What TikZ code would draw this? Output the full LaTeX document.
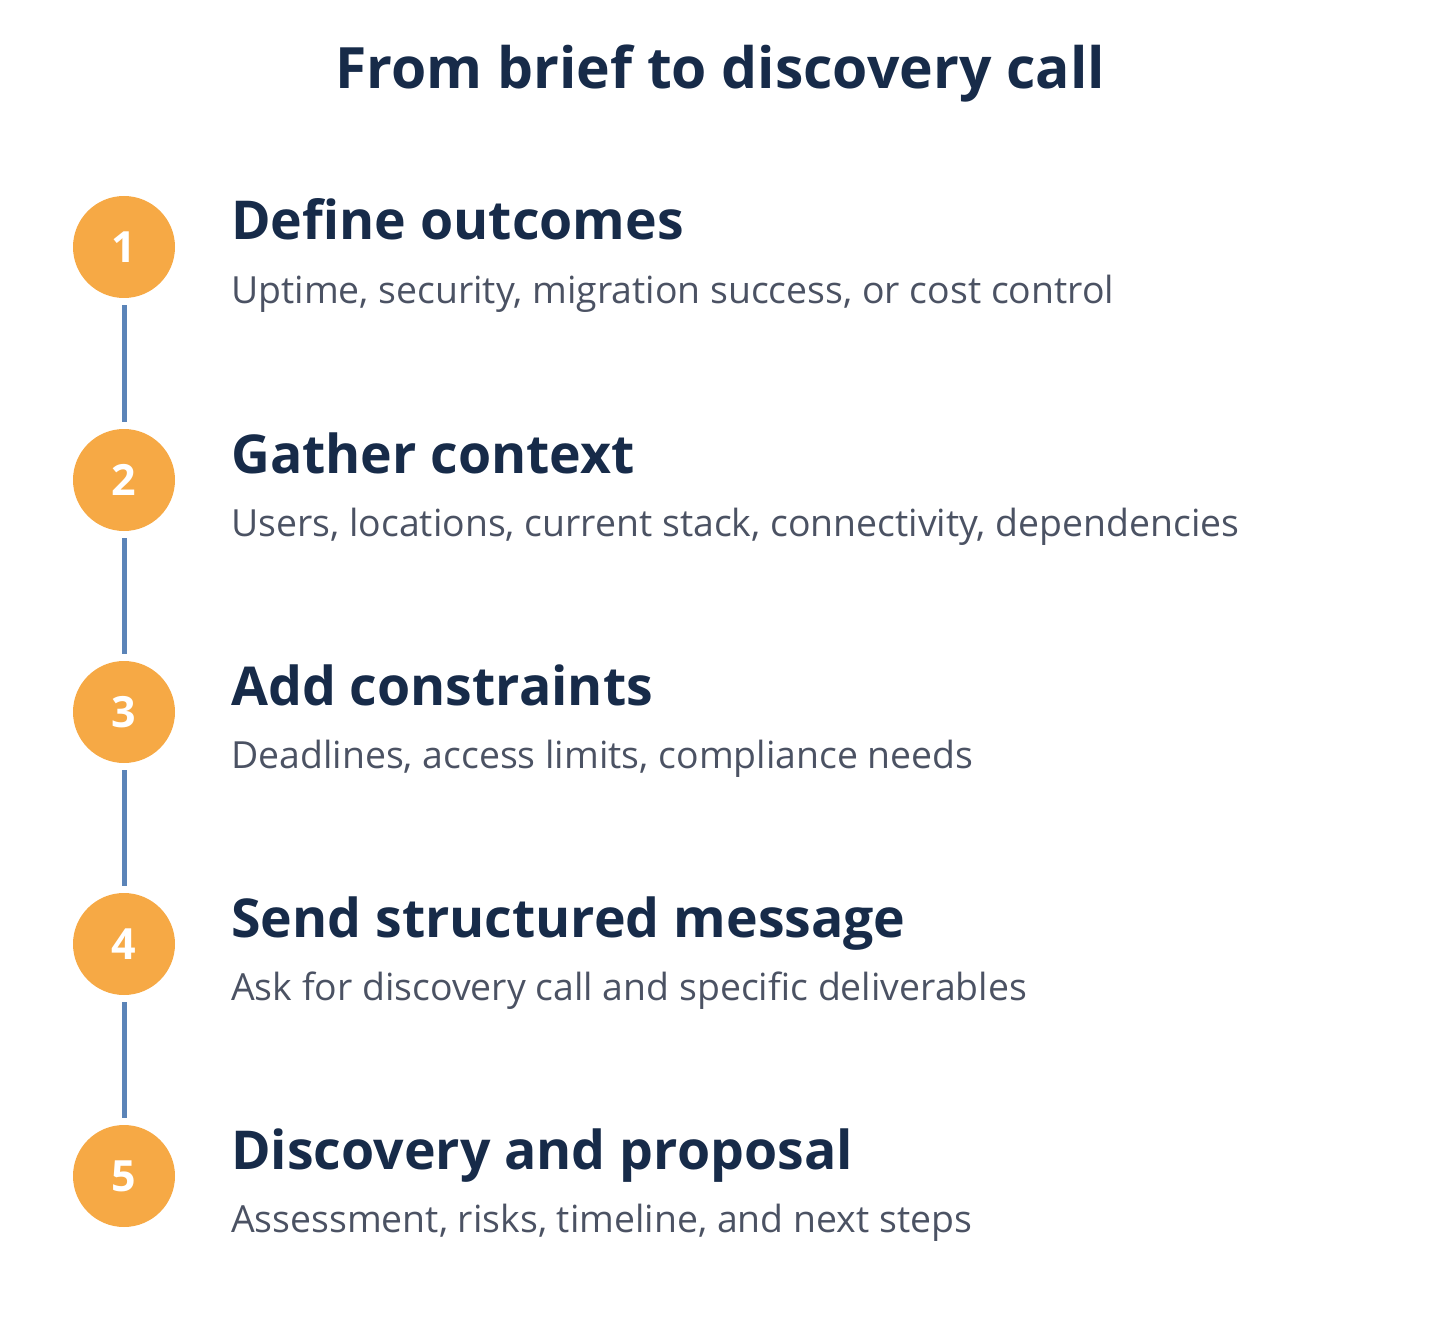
\documentclass[tikz,border=0pt]{standalone}
\usepackage{fontspec}
\setmainfont{Open Sans}
\definecolor{navy}{HTML}{172B49}
\definecolor{orng}{HTML}{F6A945}
\definecolor{lineb}{HTML}{5B84B8}
\definecolor{sub}{HTML}{4B5263}
\begin{document}
\begin{tikzpicture}[x=1pt,y=-1pt,
  stepc/.style={circle,fill=orng,minimum size=102pt,inner sep=0,text=white,font=\fontsize{43}{45}\selectfont\bfseries},
  head/.style={anchor=base west,inner sep=0,text=navy,font=\fontsize{53.6}{56}\selectfont\bfseries},
  desc/.style={anchor=base west,inner sep=0,text=sub,font=\fontsize{37.4}{40}\selectfont},
  conn/.style={draw=lineb,line width=5pt}]
\useasboundingbox (0,0) rectangle (1440,1324);
\node[anchor=base,inner sep=0,text=navy,font=\fontsize{57}{60}\selectfont\bfseries] (title) at (720,89) {From brief to discovery call};
\foreach \i/\y/\h/\d in {1/247/Define outcomes/{Uptime, security, migration success, or cost control},
  2/480/Gather context/{Users, locations, current stack, connectivity, dependencies},
  3/712/Add constraints/{Deadlines, access limits, compliance needs},
  4/944/Send structured message/{Ask for discovery call and specific deliverables},
  5/1176/Discovery and proposal/{Assessment, risks, timeline, and next steps}}{
  \node[stepc] (c\i) at (124,\y) {\i};
  \node[head] (h\i) at (231,\y-7) {\h};
  \node[desc] (d\i) at (231,\y+56) {\d};
}
\foreach \a/\b in {1/2,2/3,3/4,4/5}{
  \draw[conn] ([yshift=-7pt]c\a.south) -- ([yshift=7pt]c\b.north);
}
\end{tikzpicture}
\end{document}
